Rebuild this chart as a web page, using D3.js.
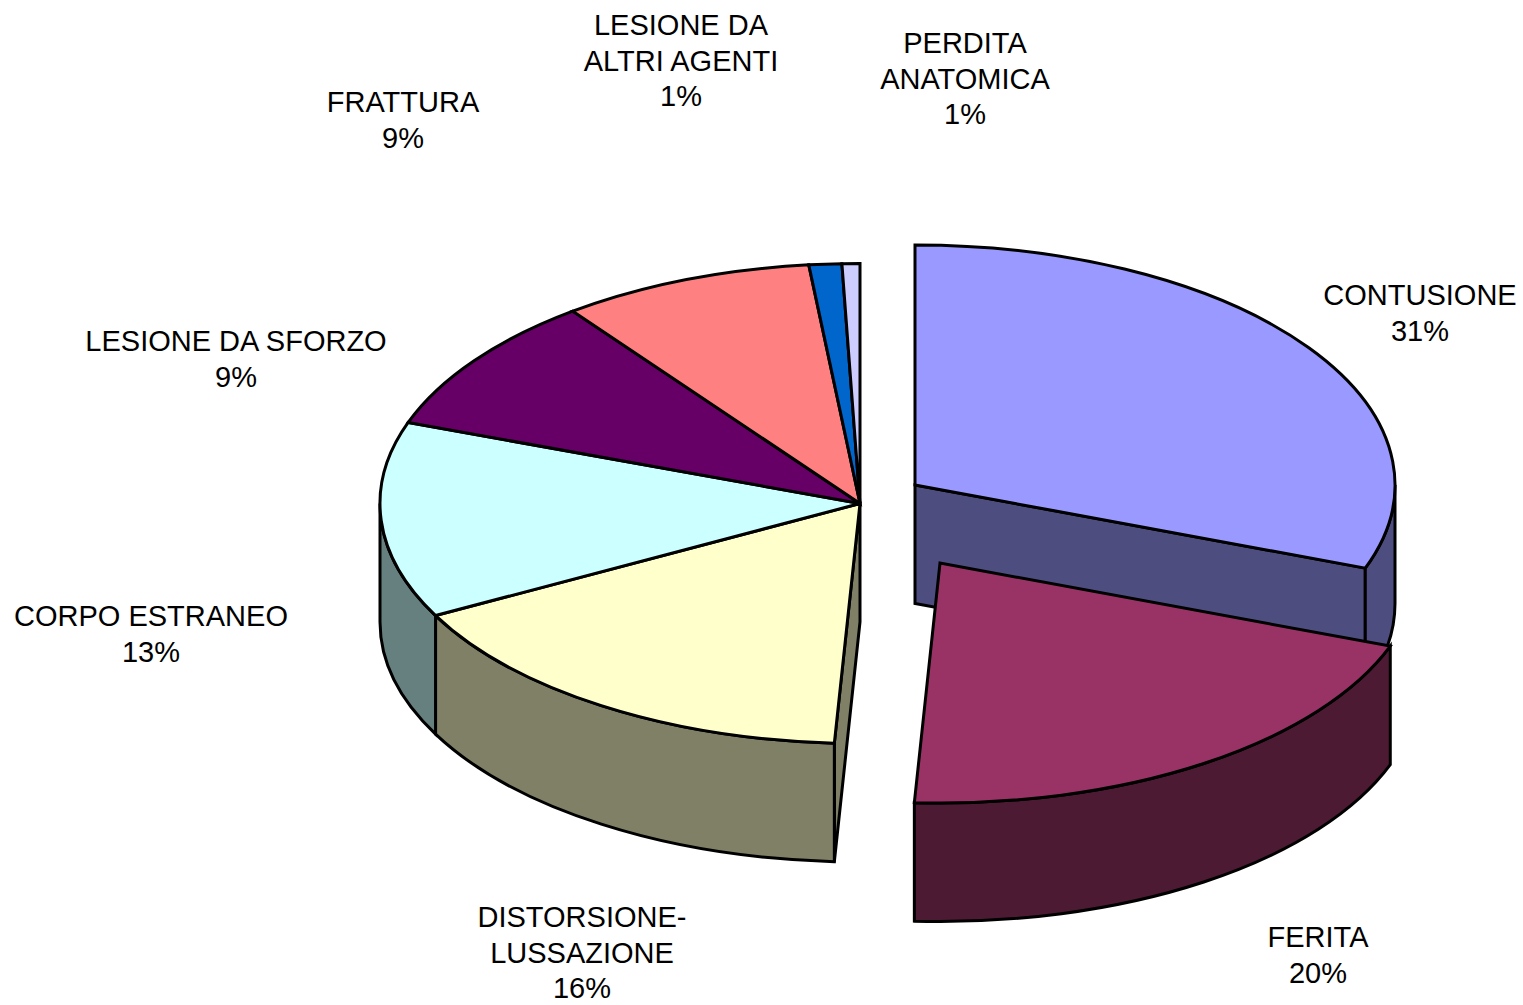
<!DOCTYPE html>
<html>
<head>
<meta charset="utf-8">
<script src="https://cdn.jsdelivr.net/npm/d3@7"></script>
<style>
  body { margin: 0; background: white; }
  svg { display: block; }
</style>
</head>
<body>
<div id="container"></div>
<script>
let w = 1523;
let h = 1005;

// data
let categories = ["CONTUSIONE", "FERITA", "DISTORSIONE-\nLUSSAZIONE", "CORPO ESTRANEO", "LESIONE DA SFORZO", "FRATTURA", "LESIONE DA\nALTRI AGENTI", "PERDITA\nANATOMICA"];
let percentValues = [30.6, 20.2, 16.4, 13.2, 9.3, 8.5, 1.1, 0.6];

// styles + layout
let topColors = ["#9999FF", "#993366", "#FFFFCC", "#CCFFFF", "#660066", "#FF8080", "#0066CC", "#CCCCFF"];
let sideColors = ["#4D4D80", "#4D1A33", "#808066", "#668080", "#330033", "#804040", "#003366", "#666680"];
let centers = [[915, 485], [940, 563], [860, 503.5], [860, 503.5], [860, 503.5], [860, 503.5], [860, 503.5], [860, 503.5]];
let labelX = [1420, 1318, 582, 151, 236, 403, 681, 965];
let labelY = [305, 947, 927, 626, 351, 112, 35, 53];

let rx = 480;
let ry = 240;
let depth = 118.5;
let lineH = 35.7;
let lineW = 3;

let viz = d3.select("#container").append("svg")
    .attr("width", w)
    .attr("height", h)
;

let pie = d3.pie().sort(null);
let slices = pie(percentValues);
let arcMaker = d3.arc().innerRadius(0).outerRadius(rx);

function pt(c, a) {
  return [c[0] + rx * Math.sin(a), c[1] - ry * Math.cos(a)];
}

// outer wall, only the part between 90 and 270 degrees can be seen
function outerWall(c, a0, a1) {
  let s = Math.max(a0, Math.PI / 2);
  let e = Math.min(a1, Math.PI * 1.5);
  if (s >= e) return null;
  let p0 = pt(c, s);
  let p1 = pt(c, e);
  return "M" + p0[0] + " " + p0[1]
    + " A" + rx + " " + ry + " 0 0 1 " + p1[0] + " " + p1[1]
    + " L" + p1[0] + " " + (p1[1] + depth)
    + " A" + rx + " " + ry + " 0 0 0 " + p0[0] + " " + (p0[1] + depth)
    + " Z";
}

function cutWall(c, a) {
  let p = pt(c, a);
  return "M" + c[0] + " " + c[1]
    + " L" + p[0] + " " + p[1]
    + " L" + p[0] + " " + (p[1] + depth)
    + " L" + c[0] + " " + (c[1] + depth)
    + " Z";
}

function addShape(g, d, fill) {
  g.append("path")
      .attr("d", d)
      .attr("fill", fill)
      .attr("stroke", "black")
      .attr("stroke-width", lineW)
      .attr("stroke-linejoin", "miter")
  ;
}

let n = slices.length;
let pieGroup = viz.append("g").attr("class", "pieGroup");

slices.forEach(function(s, i) {
  let c = centers[i];
  let g = pieGroup.append("g").attr("class", "slice");
  let prev = centers[(i + n - 1) % n];
  let next = centers[(i + 1) % n];

  // cut faces only where the neighbour is pulled away and the face looks down
  if (s.endAngle < Math.PI && next[0] !== c[0]) {
    addShape(g, cutWall(c, s.endAngle), sideColors[i]);
  }
  if (s.startAngle > Math.PI && prev[0] !== c[0]) {
    addShape(g, cutWall(c, s.startAngle), sideColors[i]);
  }
  let wall = outerWall(c, s.startAngle, s.endAngle);
  if (wall) addShape(g, wall, sideColors[i]);

  g.append("path")
      .attr("d", arcMaker(s))
      .attr("transform", "translate(" + c[0] + "," + c[1] + ") scale(1," + (ry / rx) + ")")
      .attr("fill", topColors[i])
      .attr("stroke", "black")
      .attr("stroke-width", lineW)
      .attr("stroke-linejoin", "miter")
      .attr("vector-effect", "non-scaling-stroke")
  ;
});

// labels
let labelGroup = viz.append("g").attr("class", "labelGroup");
categories.forEach(function(name, i) {
  let lines = name.split("\n").concat([Math.round(percentValues[i]) + "%"]);
  let t = labelGroup.append("text")
      .attr("font-family", "'Liberation Sans', Arial, sans-serif")
      .attr("font-size", 29)
      .attr("fill", "black")
      .attr("text-anchor", "middle")
  ;
  lines.forEach(function(l, k) {
    t.append("tspan")
        .attr("x", labelX[i])
        .attr("y", labelY[i] + k * lineH)
        .text(l)
    ;
  });
});
</script>
</body>
</html>
